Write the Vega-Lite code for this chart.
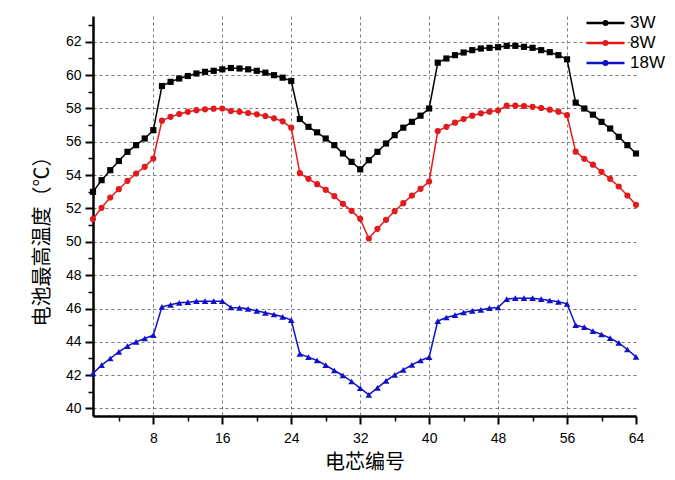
{
 "$schema": "https://vega.github.io/schema/vega-lite/v6.json",
 "autosize": {"type": "none"},
 "padding": {"left": 93, "top": 16, "right": 39, "bottom": 64},
 "width": 543,
 "height": 400,
 "background": "white",
 "config": {"view": {"stroke": null}, "font": "Liberation Sans"},
 "data": {"values": [
  {"n":1,"3W":53.0,"8W":51.37,"18W":42.1},
  {"n":2,"3W":53.7,"8W":52.04,"18W":42.6},
  {"n":3,"3W":54.3,"8W":52.66,"18W":43.0},
  {"n":4,"3W":54.85,"8W":53.16,"18W":43.4},
  {"n":5,"3W":55.4,"8W":53.66,"18W":43.74},
  {"n":6,"3W":55.8,"8W":54.1,"18W":44.0},
  {"n":7,"3W":56.2,"8W":54.5,"18W":44.2},
  {"n":8,"3W":56.7,"8W":55.0,"18W":44.4},
  {"n":9,"3W":59.35,"8W":57.27,"18W":46.1},
  {"n":10,"3W":59.6,"8W":57.5,"18W":46.22},
  {"n":11,"3W":59.8,"8W":57.67,"18W":46.34},
  {"n":12,"3W":59.95,"8W":57.8,"18W":46.38},
  {"n":13,"3W":60.1,"8W":57.9,"18W":46.44},
  {"n":14,"3W":60.2,"8W":57.95,"18W":46.44},
  {"n":15,"3W":60.26,"8W":57.99,"18W":46.44},
  {"n":16,"3W":60.35,"8W":58.0,"18W":46.44},
  {"n":17,"3W":60.43,"8W":57.85,"18W":46.06},
  {"n":18,"3W":60.4,"8W":57.8,"18W":46.04},
  {"n":19,"3W":60.35,"8W":57.73,"18W":45.98},
  {"n":20,"3W":60.26,"8W":57.65,"18W":45.86},
  {"n":21,"3W":60.15,"8W":57.55,"18W":45.74},
  {"n":22,"3W":60.0,"8W":57.41,"18W":45.64},
  {"n":23,"3W":59.85,"8W":57.23,"18W":45.5},
  {"n":24,"3W":59.65,"8W":56.85,"18W":45.3},
  {"n":25,"3W":57.37,"8W":54.12,"18W":43.28},
  {"n":26,"3W":56.9,"8W":53.78,"18W":43.08},
  {"n":27,"3W":56.57,"8W":53.46,"18W":42.88},
  {"n":28,"3W":56.2,"8W":53.12,"18W":42.6},
  {"n":29,"3W":55.8,"8W":52.74,"18W":42.28},
  {"n":30,"3W":55.3,"8W":52.28,"18W":41.98},
  {"n":31,"3W":54.8,"8W":51.86,"18W":41.62},
  {"n":32,"3W":54.35,"8W":51.38,"18W":41.22},
  {"n":33,"3W":54.9,"8W":50.2,"18W":40.82},
  {"n":34,"3W":55.4,"8W":50.78,"18W":41.24},
  {"n":35,"3W":55.9,"8W":51.32,"18W":41.66},
  {"n":36,"3W":56.4,"8W":51.84,"18W":42.02},
  {"n":37,"3W":56.85,"8W":52.32,"18W":42.32},
  {"n":38,"3W":57.2,"8W":52.78,"18W":42.62},
  {"n":39,"3W":57.57,"8W":53.18,"18W":42.88},
  {"n":40,"3W":58.0,"8W":53.62,"18W":43.08},
  {"n":41,"3W":60.75,"8W":56.65,"18W":45.24},
  {"n":42,"3W":61.0,"8W":56.9,"18W":45.46},
  {"n":43,"3W":61.2,"8W":57.15,"18W":45.6},
  {"n":44,"3W":61.36,"8W":57.37,"18W":45.76},
  {"n":45,"3W":61.5,"8W":57.57,"18W":45.86},
  {"n":46,"3W":61.6,"8W":57.71,"18W":45.92},
  {"n":47,"3W":61.64,"8W":57.81,"18W":46.02},
  {"n":48,"3W":61.68,"8W":57.89,"18W":46.06},
  {"n":49,"3W":61.76,"8W":58.17,"18W":46.56},
  {"n":50,"3W":61.76,"8W":58.17,"18W":46.62},
  {"n":51,"3W":61.7,"8W":58.15,"18W":46.62},
  {"n":52,"3W":61.64,"8W":58.1,"18W":46.62},
  {"n":53,"3W":61.5,"8W":58.03,"18W":46.56},
  {"n":54,"3W":61.38,"8W":57.93,"18W":46.48},
  {"n":55,"3W":61.2,"8W":57.81,"18W":46.4},
  {"n":56,"3W":60.95,"8W":57.6,"18W":46.28},
  {"n":57,"3W":58.35,"8W":55.41,"18W":45.0},
  {"n":58,"3W":58.0,"8W":54.98,"18W":44.88},
  {"n":59,"3W":57.63,"8W":54.63,"18W":44.64},
  {"n":60,"3W":57.2,"8W":54.2,"18W":44.44},
  {"n":61,"3W":56.8,"8W":53.78,"18W":44.22},
  {"n":62,"3W":56.3,"8W":53.32,"18W":43.94},
  {"n":63,"3W":55.8,"8W":52.78,"18W":43.54},
  {"n":64,"3W":55.3,"8W":52.22,"18W":43.1}
 ]},
 "transform": [{"fold": ["3W", "8W", "18W"], "as": ["series", "temp"]}],
 "encoding": {
  "x": {
   "field": "n", "type": "quantitative",
   "scale": {"domain": [1, 64], "nice": false, "zero": false},
   "axis": {
    "title": "电芯编号",
    "values": [4,8,12,16,20,24,28,32,36,40,44,48,52,56,60,64],
    "labelExpr": "datum.value % 8 == 0 ? datum.label : ''",
    "labelFont": "Liberation Sans", "labelFontSize": 14, "labelColor": "black",
    "labelPadding": 7, "labelFlush": false,
    "domainColor": "black", "domainWidth": 2.5,
    "tickColor": "black",
    "tickSize": {"condition": {"test": "datum.value % 8 == 0", "value": 8}, "value": 5},
    "tickWidth": {"condition": {"test": "datum.value % 8 == 0", "value": 2}, "value": 1.5},
    "grid": true,
    "gridColor": {"condition": {"test": "datum.value % 8 == 0 && datum.value < 64", "value": "#7a7a7a"}, "value": "transparent"},
    "gridDash": [3, 3], "gridWidth": 1,
    "titleFont": "Noto Sans CJK SC", "titleFontSize": 20, "titleFontWeight": "normal", "titleColor": "black",
    "titleY": 46, "titleBaseline": "middle"
   }
  },
  "y": {
   "field": "temp", "type": "quantitative",
   "scale": {"domain": [39.55, 63.55], "nice": false, "zero": false},
   "axis": {
    "title": "电池最高温度（℃）",
    "values": [40,41,42,43,44,45,46,47,48,49,50,51,52,53,54,55,56,57,58,59,60,61,62,63],
    "labelExpr": "datum.value % 2 == 0 ? datum.label : ''",
    "labelFont": "Liberation Sans", "labelFontSize": 14, "labelColor": "black",
    "labelPadding": 4,
    "domainColor": "black", "domainWidth": 2.5,
    "tickColor": "black",
    "tickSize": {"condition": {"test": "datum.value % 2 == 0", "value": 8}, "value": 5},
    "tickWidth": {"condition": {"test": "datum.value % 2 == 0", "value": 2}, "value": 1.5},
    "grid": true,
    "gridColor": {"condition": {"test": "datum.value % 2 == 0", "value": "#7a7a7a"}, "value": "transparent"},
    "gridDash": [3, 3], "gridWidth": 1,
    "titleFont": "Noto Sans CJK SC", "titleFontSize": 20, "titleFontWeight": "normal", "titleColor": "black",
    "titleX": -51, "titleY": 220, "titleAngle": -90, "titleAlign": "center", "titleBaseline": "middle"
   }
  }
 },
 "layer": [
  {
   "mark": {"type": "line", "strokeWidth": 1.5},
   "encoding": {
    "color": {
     "field": "series", "type": "nominal",
     "scale": {"domain": ["3W", "8W", "18W"], "range": ["#000000", "#e31a1c", "#1010c8"]},
     "legend": {
      "orient": "none", "legendX": 492, "legendY": -3, "title": null,
      "symbolType": "M-1,0H1M-0.09,0A0.09,0.09 0 1,1 0.09,0A0.09,0.09 0 1,1 -0.09,0Z",
      "symbolSize": 1444, "symbolStrokeWidth": 2.5,
      "labelFont": "Liberation Sans", "labelFontSize": 17, "labelColor": "black",
      "labelOffset": 4, "rowPadding": 0, "clipHeight": 20, "padding": 0
     }
    }
   }
  },
  {
   "transform": [{"filter": "datum.series == '3W'"}],
   "mark": {"type": "point", "shape": "square", "filled": true, "size": 38, "opacity": 1},
   "encoding": {"color": {"field": "series", "type": "nominal", "legend": null}}
  },
  {
   "transform": [{"filter": "datum.series == '8W'"}],
   "mark": {"type": "point", "shape": "circle", "filled": true, "size": 38, "opacity": 1},
   "encoding": {"color": {"field": "series", "type": "nominal", "legend": null}}
  },
  {
   "transform": [{"filter": "datum.series == '18W'"}],
   "mark": {"type": "point", "shape": "triangle-up", "filled": true, "size": 44, "opacity": 1},
   "encoding": {"color": {"field": "series", "type": "nominal", "legend": null}}
  }
 ]
}
